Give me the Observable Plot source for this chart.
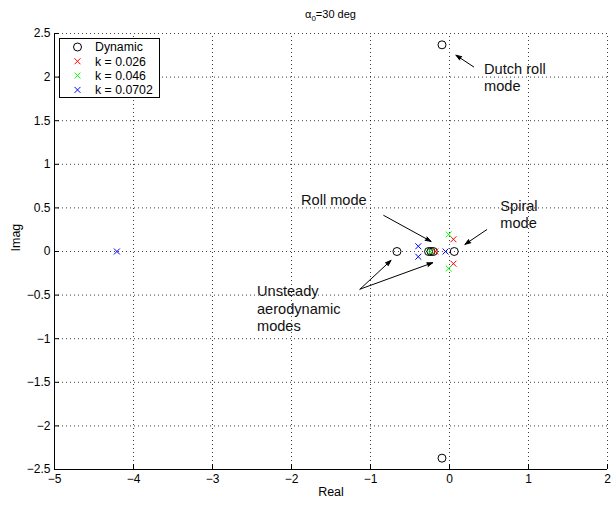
<!DOCTYPE html>
<html><head><meta charset="utf-8">
<script src="https://cdn.jsdelivr.net/npm/d3@7"></script>
<script src="https://cdn.jsdelivr.net/npm/@observablehq/plot@0.6"></script>
<style>
body{margin:0;background:#fff}
svg{font-family:"Liberation Sans",Arial,Helvetica,sans-serif}
</style>
</head><body><div id="chart"></div>
<script>
// ---- data ----
const dynamicRe = [-0.095, -0.095, -0.665, -0.265, -0.235, -0.205, 0.06];
const dynamicIm = [2.37, -2.37, 0, 0, 0, 0, 0];
const k026Re = [0.05, 0.05, -0.18];
const k026Im = [0.14, -0.14, 0];
const k046Re = [-0.01, -0.01, -0.24];
const k046Im = [0.195, -0.195, 0];
const k0702Re = [-0.395, -0.395, -0.05, -4.21];
const k0702Im = [0.06, -0.06, 0, 0];
const seriesNames = ["Dynamic", "k = 0.026", "k = 0.046", "k = 0.0702"];
const seriesColors = ["#000000", "#ff0000", "#00ff00", "#0000ff"];
const xTicks = [-5, -4, -3, -2, -1, 0, 1, 2];
const yTicks = [-2.5, -2, -1.5, -1, -0.5, 0, 0.5, 1, 1.5, 2, 2.5];
const annoText = ["Dutch roll\nmode", "Roll mode", "Spiral\nmode", "Unsteady\naerodynamic\nmodes"];
const annoX = [0.437, -1.88, 0.643, -2.437];
const annoY = [2.002, 0.594, 0.432, -0.648];
const arrowX1 = [0.306, -0.833, 0.471, -1.133, -1.133];
const arrowY1 = [2.117, 0.414, 0.25, -0.432, -0.432];
const arrowX2 = [0.082, -0.234, 0.196, -0.741, -0.213];
const arrowY2 = [2.251, 0.116, 0.082, -0.102, -0.129];
const xLabel = "Real", yLabel = "Imag";

// ---- build tables ----
const dyn = dynamicRe.map((re, i) => ({re, im: dynamicIm[i]}));
const crosses = [
  ...k026Re.map((re, i) => ({re, im: k026Im[i], s: 1})),
  ...k046Re.map((re, i) => ({re, im: k046Im[i], s: 2})),
  ...k0702Re.map((re, i) => ({re, im: k0702Im[i], s: 3}))
];
const annos = annoText.map((t, i) => ({t, x: annoX[i], y: annoY[i]}));
const arrows = arrowX1.map((x1, i) => ({x1, y1: arrowY1[i], x2: arrowX2[i], y2: arrowY2[i]}));

const W = 613, H = 506, mT = 33, mB = 37, mL = 54, mR = 6;
const innerW = W - mL - mR, innerH = H - mT - mB;
const xMin = -5, xMax = 2, yMin = -2.5, yMax = 2.5;
const tickLenX = 5 * (yMax - yMin) / innerH; // 5px inward, in y units
const tickLenY = 5 * (xMax - xMin) / innerW; // 5px inward, in x units
const fmt = d => (d < 0 ? "\u2212" : "") + Math.abs(d);
const dotted = {stroke: "#000", strokeDasharray: "1,3", strokeOpacity: 0.75, strokeWidth: 1};

const chart = Plot.plot({
  width: W, height: H,
  marginTop: mT, marginBottom: mB, marginLeft: mL, marginRight: mR,
  x: {domain: [xMin, xMax]},
  y: {domain: [yMin, yMax]},
  style: {fontFamily: "'Liberation Sans', Arial, sans-serif", background: "#fff"},
  marks: [
    Plot.ruleX(xTicks.filter(d => d > xMin), {x: d => d, y1: yMin, y2: yMax, ...dotted}),
    Plot.ruleY(yTicks.filter(d => d > yMin), {y: d => d, x1: xMin, x2: xMax, ...dotted}),
    Plot.ruleX([xMin], {x: d => d, y1: yMin, y2: yMax, stroke: "#000"}),
    Plot.ruleY([yMin], {y: d => d, x1: xMin, x2: xMax, stroke: "#000"}),
    Plot.ruleX(xTicks, {x: d => d, y1: yMin, y2: yMin + tickLenX, stroke: "#000"}),
    Plot.ruleY(yTicks, {y: d => d, x1: xMin, x2: xMin + tickLenY, stroke: "#000"}),
    Plot.axisX({ticks: xTicks, tickSize: 0, tickPadding: 5, tickFormat: fmt, fontSize: 12, label: null}),
    Plot.axisY({ticks: yTicks, tickSize: 0, tickPadding: 4, tickFormat: fmt, fontSize: 12, label: null}),
    Plot.text([xLabel], {text: d => d, frameAnchor: "bottom", dy: 26, fontSize: 12.5}),
    Plot.text([yLabel], {text: d => d, frameAnchor: "left", dx: -39, rotate: -90, fontSize: 12.5}),
    Plot.dot(dyn, {x: "re", y: "im", r: 4, stroke: seriesColors[0], strokeWidth: 1}),
    Plot.dot(crosses, {x: "re", y: "im", r: 2.8, symbol: "times", stroke: d => seriesColors[d.s], strokeWidth: 1}),
    Plot.arrow(arrows, {x1: "x1", y1: "y1", x2: "x2", y2: "y2", stroke: "#000", fill: "#000", strokeWidth: 1, headLength: 9, headAngle: 38}),
    Plot.text(annos, {x: "x", y: "y", text: "t", textAnchor: "start", lineAnchor: "middle", fontSize: 14.6, lineHeight: 1.2, fill: "#111"})
  ]
});

// title with subscript
const svg = d3.select(chart);
const title = svg.append("text").attr("x", mL + innerW / 2).attr("y", 18)
  .attr("text-anchor", "middle").attr("font-size", 11).attr("fill", "#000");
title.append("tspan").text("\u03b1");
title.append("tspan").attr("font-size", 8).attr("dy", 3).text("0");
title.append("tspan").attr("dy", -3).text("=30 deg");

// legend box
const lg = svg.append("g").attr("transform", "translate(59.5,38.5)").attr("text-anchor", "start");
lg.append("rect").attr("width", 100).attr("height", 59).attr("fill", "#fff").attr("stroke", "#000").attr("stroke-width", 1);
seriesNames.forEach((name, i) => {
  const cy = 8.5 + i * 14.3;
  if (i === 0) {
    lg.append("circle").attr("cx", 18).attr("cy", cy).attr("r", 4).attr("fill", "none").attr("stroke", seriesColors[i]);
  } else {
    lg.append("path").attr("transform", `translate(18,${cy})`)
      .attr("d", d3.symbol(d3.symbolTimes, Math.PI * 2.8 * 2.8)())
      .attr("fill", "none").attr("stroke", seriesColors[i]);
  }
  lg.append("text").attr("x", 35.5).attr("y", cy).attr("dy", "0.36em")
    .attr("text-anchor", "start").attr("font-size", 12.3).attr("fill", "#000").text(name);
});

document.getElementById("chart").appendChild(chart);
</script>
</body></html>
